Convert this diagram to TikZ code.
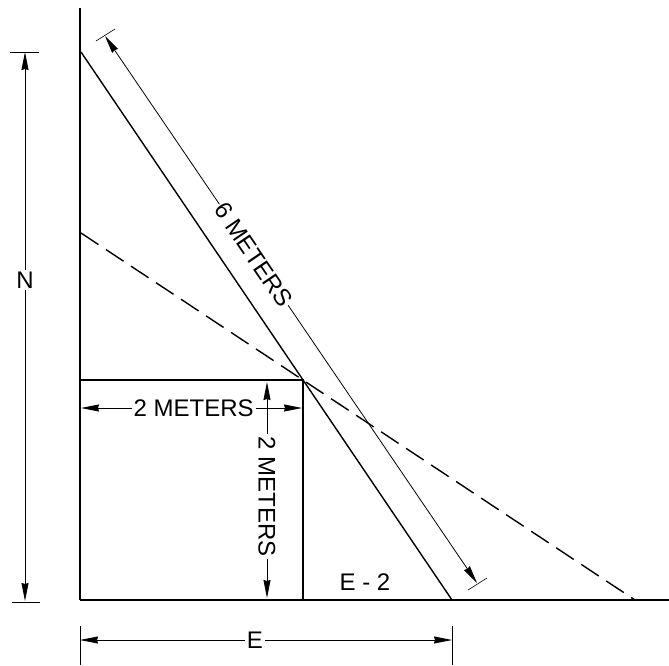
\documentclass[tikz,border=0pt]{standalone}
\usepackage{fontspec}
\setmainfont{Liberation Sans}
\usetikzlibrary{arrows.meta, calc}

\begin{document}
\begin{tikzpicture}[x=1pt,y=-1pt,>={Stealth[length=18pt,width=7pt,inset=1pt]},
		wall/.style={line width=2.6pt},
		ground/.style={line width=1.8pt},
		ladder/.style={line width=1.4pt},
		dimline/.style={line width=0.8pt},
		tick/.style={line width=0.6pt},
		lbl/.style={font=\fontsize{24}{27}\selectfont,fill=white,inner sep=2pt}]
		
		\useasboundingbox (0,0) rectangle (669,665);
		
		% wall, ground and box
		\coordinate (walltop) at (80,8);
		\coordinate (corner) at (80,600);
		\coordinate (groundend) at (669,600);
		\coordinate (boxtl) at (80,380);
		\coordinate (boxtr) at (303,380);
		\coordinate (boxbr) at (303,600);
		\draw[wall] (walltop) -- (corner);
		\draw[ground] (corner) -- (groundend);
		\draw[ladder] (boxtl) -- (boxtr) -- (boxbr);
		
		% ladders
		\coordinate (ladtop) at (81,52);
		\coordinate (ladfoot) at (452,600);
		\coordinate (dashtop) at (81,233);
		\coordinate (dashfoot) at (635,600);
		\draw[ladder] (ladtop) -- (ladfoot);
		\draw[ladder,dash pattern=on 21pt off 9pt] (dashtop) -- (dashfoot);
		
		% N
		\coordinate (ntop) at (25,52);
		\coordinate (nbot) at (25,601);
		\draw[tick] (10,52) -- (39,52);
		\draw[tick] (12,602) -- (40,602);
		\draw[dimline,<->] (ntop) -- node[lbl,pos=0.415] (nlabel) {N} (nbot);
		
		% 6 meters
		\coordinate (sixa) at (105,36);
		\coordinate (sixb) at (477,583);
		\draw[tick] (96,41) -- (115,29);
		\draw[tick] (468,590) -- (487,578);
		\draw[dimline,<->] (sixa) -- node[lbl,sloped,pos=0.40,inner sep=1pt] (sixlabel) {6 METERS} (sixb);
		
		% 2 meters across
		\coordinate (twoal) at (81,408);
		\coordinate (twoar) at (302,408);
		\draw[dimline,<->] (twoal) -- node[lbl,pos=0.51] (twoalabel) {2 METERS} (twoar);
		
		% 2 meters down
		\coordinate (twodt) at (267,382);
		\coordinate (twodb) at (267,598);
		\draw[dimline,<->] (twodt) -- node[lbl,rotate=-90,pos=0.53] (twodlabel) {2 METERS} (twodb);
		
		\node[lbl,fill=none] (etwo) at (365,582) {E - 2};
		
		% E
		\coordinate (el) at (80,640);
		\coordinate (er) at (452,640);
		\draw[tick] (80,626) -- (80,665);
		\draw[tick] (452,626) -- (452,665);
		\draw[dimline,<->] (el) -- node[lbl,pos=0.47] (elabel) {E} (er);
		
	\end{tikzpicture}
\end{document}
